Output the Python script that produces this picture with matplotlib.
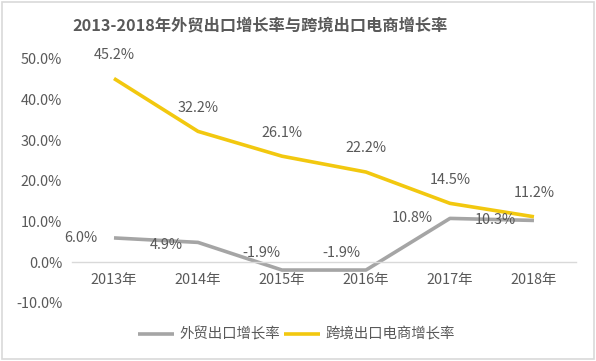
import matplotlib
matplotlib.use("Agg")
import matplotlib.pyplot as plt
from matplotlib.patches import Rectangle

plt.rcParams['font.family'] = ['Noto Sans CJK SC', 'DejaVu Sans']

title = "2013-2018年外贸出口增长率与跨境出口电商增长率"
years = ["2013年", "2014年", "2015年", "2016年", "2017年", "2018年"]
trade_name = "外贸出口增长率"
trade = [6.0, 4.9, -1.9, -1.9, 10.8, 10.3]
ecom_name = "跨境出口电商增长率"
ecom = [45.2, 32.2, 26.1, 22.2, 14.5, 11.2]
yticks = [-10, 0, 10, 20, 30, 40, 50]

GRAY = "#A5A5A5"
YELLOW = "#F2C80F"
TXT = "#595959"
FS = 10.4

fig = plt.figure(figsize=(5.96, 3.61), dpi=100)
fig.patch.set_facecolor("white")
fig.patches.append(Rectangle((0.003, 0.006), 0.994, 0.988, transform=fig.transFigure,
                             fill=False, edgecolor="#D9D9D9", linewidth=1.2))

ax = fig.add_axes([0.1208, 0.1607, 0.8456, 0.6759])
x = list(range(len(years)))
l1, = ax.plot(x, trade, color=GRAY, lw=2.6, solid_capstyle="butt", label=trade_name)
l2, = ax.plot(x, ecom, color=YELLOW, lw=2.6, solid_capstyle="butt", label=ecom_name)

ax.set_xlim(-0.5, len(years) - 0.5)
ax.set_ylim(-10, 50)
ax.set_yticks(yticks)
ax.set_yticklabels([f"{v:.1f}%" for v in yticks])
ax.set_xticks(x)
ax.set_xticklabels(years)
for s in ["top", "right", "left"]:
    ax.spines[s].set_visible(False)
ax.spines["bottom"].set_position(("data", 0))
ax.spines["bottom"].set_color("#D9D9D9")
ax.spines["bottom"].set_linewidth(1)
ax.tick_params(axis="both", length=0, labelsize=FS, labelcolor=TXT)
ax.tick_params(axis="x", pad=8)
ax.tick_params(axis="y", pad=7)

# data labels
for xi, v in zip(x, ecom):
    ax.annotate(f"{v:.1f}%", (xi, v), xytext=(0, 17), textcoords="offset points",
                ha="center", va="center", fontsize=FS, color=TXT)
trade_offsets = [(-12, 0), (-11, -2), (-1, 12), (-4, 12), (-12, 0), (-13, 0)]
for xi, v, (dx, dy) in zip(x, trade, trade_offsets):
    ax.annotate(f"{v:.1f}%", (xi, v), xytext=(dx, dy), textcoords="offset points",
                ha="right", va="center", fontsize=FS, color=TXT)

fig.text(0.436, 0.93, title, ha="center", va="center", fontsize=11.7,
         fontweight="bold", color=TXT)

fig.legend(handles=[l1, l2], loc="center", bbox_to_anchor=(0.497, 0.073), ncol=2,
           frameon=False, fontsize=FS, handlelength=2.5, handletextpad=0.35,
           columnspacing=0.3, labelcolor=TXT)

fig.savefig("out.png", dpi=100)
